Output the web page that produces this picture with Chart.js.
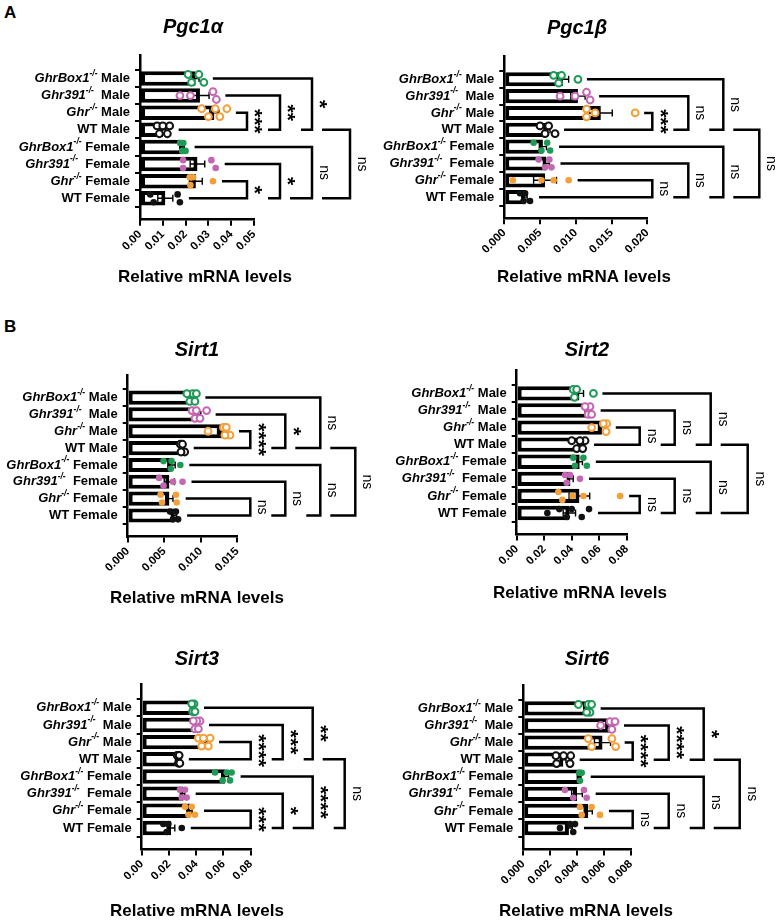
<!DOCTYPE html>
<html lang="en">
<head>
  <meta charset="UTF-8" />
  <title>Pgc1 / Sirt mRNA levels</title>
  <script src="https://cdn.jsdelivr.net/npm/chart.js"></script>
  <style>
    body { margin: 0; background: #fff; }
    #fig { position: relative; width: 777px; height: 922px; overflow: hidden; font-family: "Liberation Sans", Arial, sans-serif; }
    .panel-letter { position: absolute; font-weight: bold; font-size: 17px; color: #000; }
    .box { position: absolute; }
  </style>
</head>
<body>
  <div id="fig">
    <div class="panel-letter" style="left:4px; top:3px;">A</div>
    <div class="panel-letter" style="left:4px; top:317px;">B</div>
    <div class="box" id="bPgc1a"><canvas id="cPgc1a"></canvas></div>
    <div class="box" id="bPgc1b"><canvas id="cPgc1b"></canvas></div>
    <div class="box" id="bSirt1"><canvas id="cSirt1"></canvas></div>
    <div class="box" id="bSirt2"><canvas id="cSirt2"></canvas></div>
    <div class="box" id="bSirt3"><canvas id="cSirt3"></canvas></div>
    <div class="box" id="bSirt6"><canvas id="cSirt6"></canvas></div>
  </div>

  <script>
    // --- data ---
    const categories = [
      'GhrBox1-/- Male', 'Ghr391-/-  Male', 'Ghr-/- Male', 'WT Male',
      'GhrBox1-/- Female', 'Ghr391-/-  Female', 'Ghr-/- Female', 'WT Female'
    ];
    const rowColors = ['#1f9a55', '#c467b3', '#f4a03a', '#111111', '#1f9a55', '#c467b3', '#f4a03a', '#111111'];
    const rowOpen = [true, true, true, true, false, false, false, false];

    const pgc1aTicks = ['0.00', '0.01', '0.02', '0.03', '0.04', '0.05'];
    const pgc1aMean = [0.0244, 0.0263, 0.0326, 0.0102, 0.0188, 0.0252, 0.0245, 0.0111];
    const pgc1aSem = [0.0015, 0.0040, 0.0020, 0.0012, 0.0006, 0.0032, 0.0028, 0.0033];
    const pgc1aPts = [
      [0.0226, 0.0280, 0.0211, 0.0258],
      [0.0175, 0.0221, 0.0320, 0.0335],
      [0.0270, 0.0300, 0.0330, 0.0350, 0.0381],
      [0.0075, 0.0085, 0.0100, 0.0120, 0.0130],
      [0.0176, 0.0185, 0.0190, 0.0200],
      [0.0189, 0.0189, 0.0313, 0.0332],
      [0.0221, 0.0233, 0.0218, 0.0320],
      [0.0045, 0.0060, 0.0165, 0.0175]
    ];
    const pgc1aStars = ['***', '**', '*', '*', '*', 'ns', 'ns'];

    const pgc1bTicks = ['0.000', '0.005', '0.010', '0.015', '0.020'];
    const pgc1bMean = [0.0082, 0.0103, 0.0135, 0.0060, 0.0054, 0.0059, 0.0057, 0.0029];
    const pgc1bSem = [0.0008, 0.0010, 0.0016, 0.0004, 0.0005, 0.0004, 0.0016, 0.0003];
    const pgc1bPts = [
      [0.0069, 0.0080, 0.0076, 0.0103],
      [0.0078, 0.0099, 0.0115, 0.0120],
      [0.0115, 0.0127, 0.0115, 0.0183],
      [0.0050, 0.0057, 0.0062, 0.0071],
      [0.0041, 0.0052, 0.0064, 0.0060],
      [0.0048, 0.0057, 0.0066, 0.0063],
      [0.0012, 0.0052, 0.0069, 0.0090],
      [0.0022, 0.0029, 0.0036, 0.0027]
    ];
    const pgc1bStars = ['***', 'ns', 'ns', 'ns', 'ns', 'ns', 'ns'];

    const sirt1Ticks = ['0.000', '0.005', '0.010', '0.015'];
    const sirt1Mean = [0.0088, 0.0096, 0.0129, 0.0075, 0.0060, 0.0057, 0.0057, 0.0064];
    const sirt1Sem = [0.0002, 0.0004, 0.0006, 0.0002, 0.0005, 0.0007, 0.0005, 0.0003];
    const sirt1Pts = [
      [0.0085, 0.0092, 0.0089, 0.0094, 0.0081],
      [0.0092, 0.0088, 0.0099, 0.0108, 0.0094],
      [0.0110, 0.0131, 0.0140, 0.0133, 0.0135],
      [0.0072, 0.0075, 0.0078, 0.0073],
      [0.0049, 0.0060, 0.0072, 0.0059],
      [0.0049, 0.0043, 0.0062, 0.0075],
      [0.0047, 0.0045, 0.0066, 0.0067],
      [0.0069, 0.0058, 0.0066, 0.0062]
    ];
    const sirt1Stars = ['****', '*', 'ns', 'ns', 'ns', 'ns', 'ns'];

    const sirt2Ticks = ['0.00', '0.02', '0.04', '0.06', '0.08'];
    const sirt2Mean = [0.0456, 0.0520, 0.0620, 0.0465, 0.0458, 0.0391, 0.0456, 0.0383];
    const sirt2Sem = [0.0030, 0.0010, 0.0025, 0.0020, 0.0020, 0.0020, 0.0075, 0.0045];
    const sirt2Pts = [
      [0.0410, 0.0436, 0.0420, 0.0558],
      [0.0520, 0.0533, 0.0497, 0.0545],
      [0.0545, 0.0650, 0.0655, 0.0630],
      [0.0400, 0.0436, 0.0497, 0.0480, 0.0460],
      [0.0424, 0.0510, 0.0412, 0.0485],
      [0.0364, 0.0388, 0.0460, 0.0352],
      [0.0332, 0.0407, 0.0485, 0.0752, 0.0303],
      [0.0223, 0.0310, 0.0364, 0.0473, 0.0526, 0.0400]
    ];
    const sirt2Stars = ['ns', 'ns', 'ns', 'ns', 'ns', 'ns', 'ns'];

    const sirt3Ticks = ['0.00', '0.02', '0.04', '0.06', '0.08'];
    const sirt3Mean = [0.0380, 0.0403, 0.0460, 0.0270, 0.0613, 0.0306, 0.0355, 0.0215];
    const sirt3Sem = [0.0005, 0.0008, 0.0018, 0.0003, 0.0025, 0.0010, 0.0015, 0.0028];
    const sirt3Pts = [
      [0.0374, 0.0384, 0.0367, 0.0391],
      [0.0390, 0.0428, 0.0404, 0.0379, 0.0416],
      [0.0416, 0.0440, 0.0502, 0.0489, 0.0453],
      [0.0260, 0.0270, 0.0275, 0.0280],
      [0.0538, 0.0594, 0.0660, 0.0624, 0.0648],
      [0.0294, 0.0318, 0.0281, 0.0330],
      [0.0318, 0.0391, 0.0343, 0.0367],
      [0.0159, 0.0196, 0.0294, 0.0183]
    ];
    const sirt3Stars = ['****', '***', '**', '***', '*', '****', 'ns'];

    const sirt6Ticks = ['0.000', '0.002', '0.004', '0.006', '0.008'];
    const sirt6Mean = [0.00474, 0.00645, 0.00590, 0.00298, 0.00425, 0.00400, 0.00484, 0.00340];
    const sirt6Sem = [0.00020, 0.00030, 0.00060, 0.00020, 0.00005, 0.00040, 0.00030, 0.00025];
    const sirt6Pts = [
      [0.00410, 0.00484, 0.00497, 0.00509, 0.00472],
      [0.00576, 0.00646, 0.00660, 0.00683],
      [0.00509, 0.00484, 0.00688, 0.00660],
      [0.00243, 0.00248, 0.00353, 0.00348, 0.00300],
      [0.00422, 0.00435, 0.00417],
      [0.00310, 0.00372, 0.00472, 0.00452],
      [0.00422, 0.00509, 0.00571, 0.00435],
      [0.00273, 0.00372, 0.00385, 0.00348]
    ];
    const sirt6Stars = ['****', '****', '*', 'ns', 'ns', 'ns', 'ns'];

    // --- layout (absolute page pixels) ---
    const FONT = '"Liberation Sans", Arial, sans-serif';
    const panels = [
      { id: 'Pgc1a', title: 'Pgc1\u03b1', box: [0, 0, 380, 300], x: [140, 254], rows: [70, 207],
        titleAt: [193, 27], labelAt: [205, 277], levels: [-7, 26, 58, 96],
        ticks: pgc1aTicks, mean: pgc1aMean, sem: pgc1aSem, pts: pgc1aPts, stars: pgc1aStars },
      { id: 'Pgc1b', title: 'Pgc1\u03b2', box: [372, 0, 405, 300], x: [504.3, 647.3], rows: [71, 205.7],
        titleAt: [577, 28], labelAt: [584, 277], levels: [5, 41, 76, 112],
        ticks: pgc1bTicks, mean: pgc1bMean, sem: pgc1bSem, pts: pgc1bPts, stars: pgc1bStars },
      { id: 'Sirt1', title: 'Sirt1', box: [0, 300, 380, 310], x: [127.7, 237.3], rows: [389.3, 524],
        titleAt: [197, 350], labelAt: [197, 598], levels: [13, 48, 83, 118],
        ticks: sirt1Ticks, mean: sirt1Mean, sem: sirt1Sem, pts: sirt1Pts, stars: sirt1Stars },
      { id: 'Sirt2', title: 'Sirt2', box: [372, 300, 405, 310], x: [516.7, 626.7], rows: [385, 521.7],
        titleAt: [587, 350], labelAt: [580, 593], levels: [13, 48, 84, 121],
        ticks: sirt2Ticks, mean: sirt2Mean, sem: sirt2Sem, pts: sirt2Pts, stars: sirt2Stars },
      { id: 'Sirt3', title: 'Sirt3', box: [0, 610, 380, 312], x: [141.7, 250.7], rows: [699.3, 836.7],
        titleAt: [197, 659], labelAt: [197, 911], levels: [0, 32, 62, 94],
        ticks: sirt3Ticks, mean: sirt3Mean, sem: sirt3Sem, pts: sirt3Pts, stars: sirt3Stars },
      { id: 'Sirt6', title: 'Sirt6', box: [372, 610, 405, 312], x: [523.3, 630.7], rows: [700, 836.7],
        titleAt: [587, 659], labelAt: [586, 911], levels: [2, 38, 73, 109],
        ticks: sirt6Ticks, mean: sirt6Mean, sem: sirt6Sem, pts: sirt6Pts, stars: sirt6Stars }
    ];

    const Y_MIN = -0.75, Y_MAX = 7.65;
    const X_AXIS_H = 50;

    // spread overlapping points of one row into two lanes
    function swarm(vals, thr) {
      const order = vals.map((v, i) => i).sort((a, b) => vals[a] - vals[b]);
      const off = vals.map(() => 0);
      let sign = -1;
      order.forEach(i => {
        const crowded = vals.some((v, j) => j !== i && Math.abs(v - vals[i]) < thr);
        if (crowded) { off[i] = sign * 0.23; sign = -sign; }
      });
      return off;
    }

    function drawRowLabel(ctx, text, xRight, y) {
      const k = text.indexOf('-/-');
      const segs = k < 0
        ? [{ t: text, f: 'bold 13px ' + FONT, dy: 0 }]
        : [{ t: text.slice(0, k), f: 'italic bold 13px ' + FONT, dy: 0 },
           { t: '-/-', f: 'italic bold 8.5px ' + FONT, dy: -5 },
           { t: text.slice(k + 3), f: 'bold 13px ' + FONT, dy: 0 }];
      let w = 0;
      segs.forEach(s => { ctx.font = s.f; s.w = ctx.measureText(s.t).width; w += s.w; });
      let x = xRight - w;
      ctx.textAlign = 'left';
      ctx.textBaseline = 'middle';
      segs.forEach(s => { ctx.font = s.f; ctx.fillText(s.t, x, y + s.dy); x += s.w; });
    }

    function makePlugin(p) {
      const ox = p.box[0], oy = p.box[1];
      return {
        id: 'fig' + p.id,
        afterDatasetDraw(chart, args) {
          if (args.index !== 0) return;
          const ctx = chart.ctx, xs = chart.scales.x, ys = chart.scales.y;
          ctx.save();
          ctx.strokeStyle = '#000';
          ctx.lineWidth = 1.4;
          p.mean.forEach((m, i) => {
            const y = ys.getPixelForValue(i);
            const x1 = xs.getPixelForValue(Math.max(0, m - p.sem[i]));
            const x2 = xs.getPixelForValue(m + p.sem[i]);
            ctx.beginPath();
            ctx.moveTo(x1, y); ctx.lineTo(x2, y);
            ctx.moveTo(x1, y - 3.5); ctx.lineTo(x1, y + 3.5);
            ctx.moveTo(x2, y - 3.5); ctx.lineTo(x2, y + 3.5);
            ctx.stroke();
          });
          ctx.restore();
        },
        afterDraw(chart) {
          const ctx = chart.ctx, xs = chart.scales.x, ys = chart.scales.y, ca = chart.chartArea;
          ctx.save();
          ctx.fillStyle = '#000';

          // title and axis title
          ctx.textAlign = 'center';
          ctx.textBaseline = 'middle';
          ctx.font = 'italic bold 20px ' + FONT;
          ctx.fillText(p.title, p.titleAt[0] - ox, p.titleAt[1] - oy);
          ctx.font = 'bold 17px ' + FONT;
          ctx.fillText('Relative mRNA levels', p.labelAt[0] - ox, p.labelAt[1] - oy);

          // category labels
          categories.forEach((c, i) => drawRowLabel(ctx, c, ca.left - 10, ys.getPixelForValue(i)));

          // significance brackets
          ctx.strokeStyle = '#000';
          ctx.lineWidth = 2.5;
          ctx.lineJoin = 'miter';
          const X = p.levels.map(o => ca.right + o);
          const yR = i => ys.getPixelForValue(i);
          const rowEnd = i => xs.getPixelForValue(Math.max(...p.pts[i], p.mean[i] + p.sem[i])) + 9;
          function bracket(top, bot, x, xTop, xBot, label) {
            const yT = yR(top), yB = yR(bot);
            ctx.beginPath();
            ctx.moveTo(xTop, yT); ctx.lineTo(x, yT); ctx.lineTo(x, yB); ctx.lineTo(xBot, yB);
            ctx.stroke();
            const isNs = label === 'ns';
            ctx.font = isNs ? '14px ' + FONT : 'bold 21px ' + FONT;
            const L = ctx.measureText(label).width;
            const mid = (yT + yB) / 2;
            ctx.save();
            ctx.translate(x + (isNs ? 12 : 7), mid);
            ctx.rotate(Math.PI / 2);
            ctx.textAlign = 'center';
            ctx.textBaseline = 'middle';
            ctx.fillText(label, 0, 0);
            ctx.restore();
            return mid + L / 2 > yB - 10;
          }
          const next = [];
          [[2, 1, 0, 3], [6, 5, 4, 7]].forEach((g, gi) => {
            let botStart = rowEnd(g[3]);
            for (let l = 0; l < 3; l++) {
              const reach = bracket(g[l], g[3], X[l], rowEnd(g[l]), botStart, p.stars[gi * 3 + l]);
              botStart = X[l] + (reach ? 21 : 10);
            }
            next.push(botStart);
          });
          bracket(3, 7, X[3], next[0], next[1], p.stars[6]);
          ctx.restore();
        }
      };
    }

    panels.forEach(p => {
      const [bx, by, bw, bh] = p.box;
      const holder = document.getElementById('b' + p.id);
      holder.style.left = bx + 'px';
      holder.style.top = by + 'px';
      holder.style.width = bw + 'px';
      holder.style.height = bh + 'px';

      const s = (p.rows[1] - p.rows[0]) / 7;
      const top = p.rows[0] + Y_MIN * s;
      const bottom = p.rows[1] + (Y_MAX - 7) * s;
      const tickVals = p.ticks.map(Number);
      const xMax = tickVals[tickVals.length - 1];
      const thr = 8.5 * xMax / (p.x[1] - p.x[0]);

      const pointSets = p.pts.map((vals, i) => {
        const off = swarm(vals, thr);
        return {
          type: 'scatter',
          data: vals.map((v, k) => ({ x: v, y: i + off[k] })),
          pointRadius: rowOpen[i] ? 3.4 : 3.3,
          pointBorderWidth: rowOpen[i] ? 2 : 0,
          pointBorderColor: rowColors[i],
          pointBackgroundColor: rowOpen[i] ? '#ffffff' : rowColors[i],
          pointHoverRadius: 0,
          showLine: false,
          clip: false,
          order: 1
        };
      });

      new Chart(document.getElementById('c' + p.id), {
        type: 'bar',
        data: {
          datasets: [{
            type: 'bar',
            data: p.mean.map((m, i) => ({ x: m, y: i })),
            backgroundColor: '#ffffff',
            borderColor: '#000000',
            borderWidth: 4,
            borderSkipped: false,
            categoryPercentage: 1,
            barPercentage: 0.84,
            order: 2
          }, ...pointSets]
        },
        options: {
          indexAxis: 'y',
          responsive: true,
          maintainAspectRatio: false,
          animation: false,
          events: [],
          layout: {
            padding: {
              left: p.x[0] - bx,
              right: bx + bw - p.x[1],
              top: top - by,
              bottom: by + bh - bottom - X_AXIS_H
            }
          },
          plugins: { legend: { display: false }, tooltip: { enabled: false }, title: { display: false } },
          scales: {
            x: {
              type: 'linear',
              min: 0,
              max: xMax,
              afterFit: sc => { sc.height = X_AXIS_H; },
              afterBuildTicks: sc => { sc.ticks = tickVals.map(v => ({ value: v })); },
              grid: { drawOnChartArea: false, drawTicks: true, tickLength: 6, color: '#000', lineWidth: 2 },
              border: { display: true, color: '#000', width: 2.5 },
              ticks: {
                autoSkip: false,
                minRotation: 45,
                maxRotation: 45,
                padding: 2,
                color: '#000',
                font: { family: FONT, size: 11.5, weight: 'bold' },
                callback: (v, i) => p.ticks[i]
              }
            },
            y: {
              type: 'linear',
              reverse: true,
              min: Y_MIN,
              max: Y_MAX,
              afterFit: sc => { sc.width = 0; },
              afterBuildTicks: sc => { sc.ticks = categories.map((c, i) => ({ value: i })); },
              grid: { drawOnChartArea: false, drawTicks: true, tickLength: 5, color: '#000', lineWidth: 2 },
              border: { display: true, color: '#000', width: 2.5 },
              ticks: { display: false }
            }
          }
        },
        plugins: [makePlugin(p)]
      });
    });
  </script>
</body>
</html>
